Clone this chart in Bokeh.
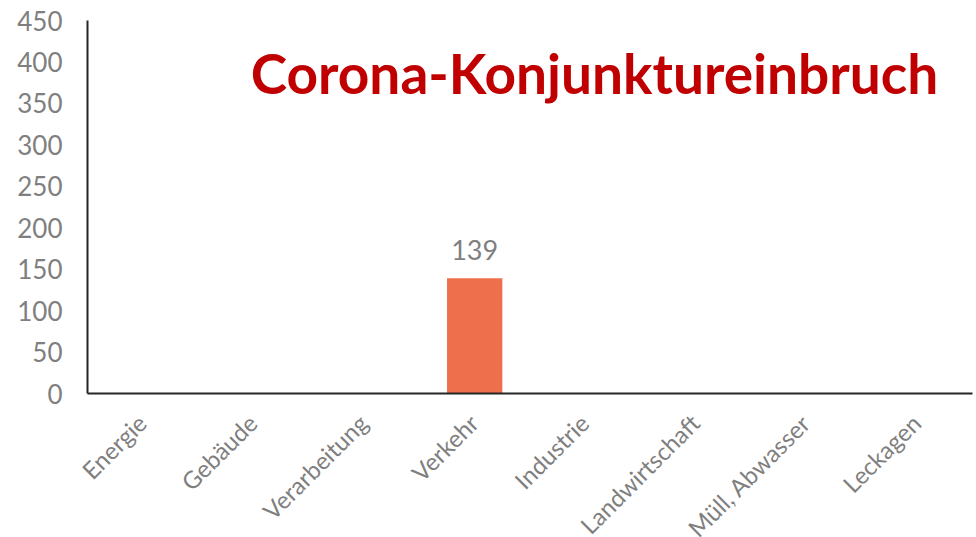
import math
from bokeh.plotting import figure
from bokeh.models import ColumnDataSource, Range1d, Label, LabelSet
from bokeh.core.properties import value
from bokeh.embed import file_html
from bokeh.resources import INLINE

categories = ["Energie", "Gebäude", "Verarbeitung", "Verkehr", "Industrie",
              "Landwirtschaft", "Müll, Abwasser", "Leckagen"]
values = [0, 0, 0, 139, 0, 0, 0, 0]
y_ticks = [0, 50, 100, 150, 200, 250, 300, 350, 400, 450]
title_text = "Corona-Konjunktureinbruch"

FONT = "Lato"
GRAY = "#7f7f7f"
AXIS = "#262626"

W, H = 976, 537
# pixel layout of the plotting area (value axis and zero line)
AX_LEFT, AX_RIGHT, AX_TOP, AX_ZERO = 87, 972, 20, 393
n = len(categories)
Y_MAX = y_ticks[-1]
px_x = (AX_RIGHT - AX_LEFT) / n
px_y = (AX_ZERO - AX_TOP) / Y_MAX
x_range = Range1d(-AX_LEFT / px_x, n + (W - AX_RIGHT) / px_x)
y_range = Range1d(-(H - AX_ZERO) / px_y, Y_MAX + AX_TOP / px_y)

pos = [i + 0.5 for i in range(n)]
src = ColumnDataSource(dict(
    x=pos,
    cat=categories,
    val=values,
    base=[0] * n,
    lab=[str(v) if v > 0 else "" for v in values],
))
tick_src = ColumnDataSource(dict(
    x=[0] * len(y_ticks),
    y=y_ticks,
    t=[str(t) for t in y_ticks],
))

p = figure(width=W, height=H, x_range=x_range, y_range=y_range,
           output_backend="svg", toolbar_location=None, min_border=0)
p.outline_line_color = None
p.grid.visible = False
p.axis.visible = False

p.vbar(x="x", top="val", width=0.5, source=src, color="#EE6F4B", line_color=None)

# axis lines
p.segment(x0=[0], y0=[y_ticks[0]], x1=[0], y1=[Y_MAX], line_color=AXIS, line_width=2)
p.segment(x0=[0], y0=[0], x1=[n], y1=[0], line_color=AXIS, line_width=2)

# value-axis tick labels
p.add_layout(LabelSet(x="x", y="y", text="t", source=tick_src, x_offset=-25,
                      text_align="right", text_baseline="middle",
                      text_font=value(FONT), text_font_size="26px",
                      text_color=GRAY))

# data label
p.add_layout(LabelSet(x="x", y="val", text="lab", source=src, y_offset=18,
                      text_align="center", text_baseline="alphabetic",
                      text_font=value(FONT), text_font_size="27px",
                      text_color=GRAY))

# rotated category labels below the zero line
p.add_layout(LabelSet(x="x", y="base", text="cat", source=src,
                      x_offset=-1, y_offset=-25, angle=math.pi / 4,
                      text_align="right", text_baseline="middle",
                      text_font=value(FONT), text_font_size="24px",
                      text_color=GRAY))

p.add_layout(Label(x=4.583, y=387, text=title_text, text_align="center",
                   text_baseline="alphabetic", text_font=FONT,
                   text_font_size="55px", text_font_style="bold",
                   text_color="#C00000"))

open("out.html", "w").write(file_html(p, INLINE))
